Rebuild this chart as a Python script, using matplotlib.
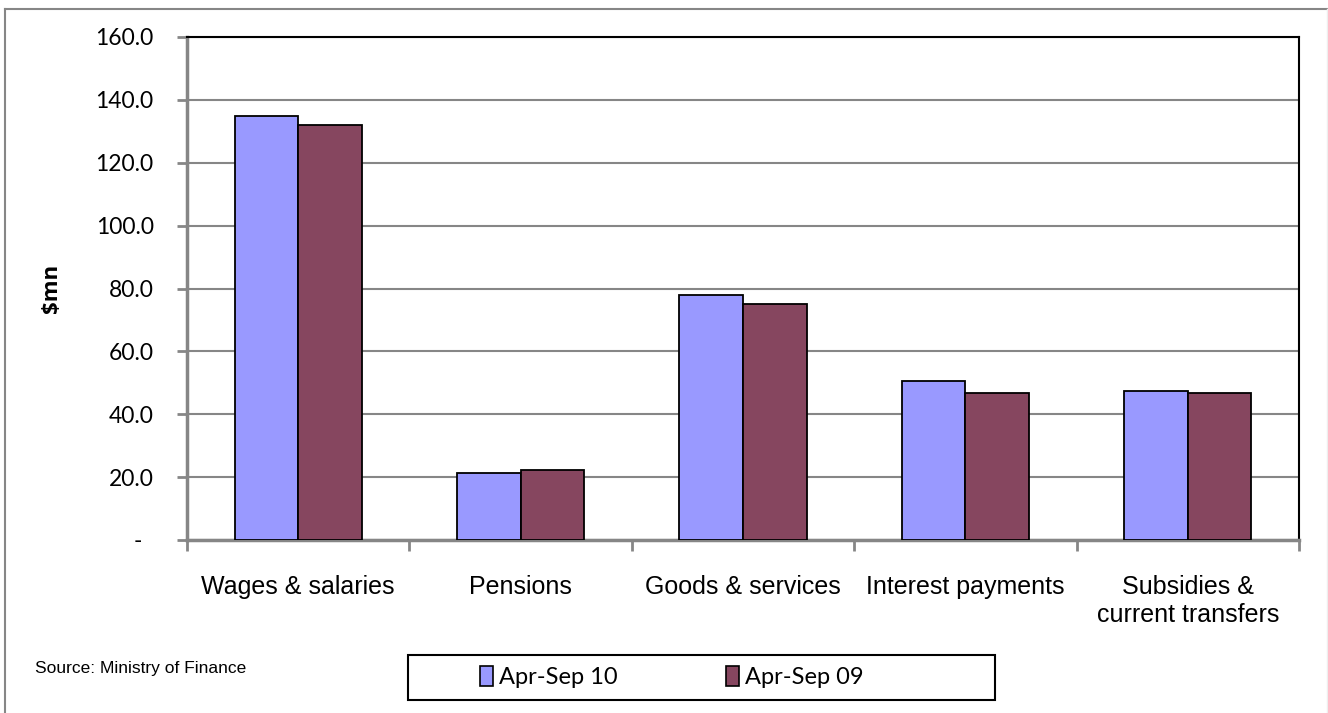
import matplotlib
matplotlib.use("Agg")
import matplotlib.pyplot as plt
import numpy as np
from matplotlib.patches import Rectangle
from matplotlib.lines import Line2D

categories = ["Wages & salaries", "Pensions", "Goods & services",
              "Interest payments", "Subsidies &\ncurrent transfers"]
apr_sep_10 = [135.0, 21.3, 78.0, 50.6, 47.4]
apr_sep_09 = [132.0, 22.4, 75.0, 46.8, 46.8]
series_names = ["Apr-Sep 10", "Apr-Sep 09"]
yticks = [0, 20, 40, 60, 80, 100, 120, 140, 160]

blue = "#9999FF"
plum = "#86465F"
grey = "#868686"
W, H = 1328, 713

fig = plt.figure(figsize=(W / 100, H / 100), dpi=100)
ax = fig.add_axes([187 / W, 1 - 540 / H, (1299 - 187) / W, (540 - 37) / H])

x = np.arange(len(categories))
w = 0.286
ax.bar(x - w / 2, apr_sep_10, w, color=blue, edgecolor="black", linewidth=1.3, zorder=3)
ax.bar(x + w / 2, apr_sep_09, w, color=plum, edgecolor="black", linewidth=1.3, zorder=3)

ax.set_xlim(-0.5, len(categories) - 0.5)
ax.set_ylim(0, 160)
ax.set_yticks(yticks)
ax.set_yticklabels(["-  "] + [f"{v:.1f}" for v in yticks[1:]],
                   fontfamily="Lato", fontsize=16.5)
ax.yaxis.grid(True, color=grey, linewidth=1.5, zorder=0)

# category ticks sit between the groups, labels at the centres
ax.set_xticks(np.arange(len(categories) + 1) - 0.5)
ax.set_xticklabels([])
ax.set_xticks(x, minor=True)
ax.set_xticklabels(categories, minor=True, fontfamily="Liberation Sans", fontsize=18)
ax.tick_params(axis="x", which="minor", length=0, pad=25)
ax.tick_params(axis="x", which="major", length=8, width=2, color=grey, direction="out")
ax.tick_params(axis="y", length=7, width=2, color=grey, pad=17)

for s in ("left", "bottom"):
    ax.spines[s].set_color(grey)
    ax.spines[s].set_linewidth(2.5)
for s in ("top", "right"):
    ax.spines[s].set_color("black")
    ax.spines[s].set_linewidth(1.5)

ax.set_ylabel("$mn", fontfamily="Open Sans", fontweight="bold", fontsize=16, labelpad=24)

# legend: framed box under the plot, entries centred inside it
fig.add_artist(Rectangle((408 / W, 1 - 700 / H), 587 / W, 45 / H, transform=fig.transFigure,
                         facecolor="white", edgecolor="black", linewidth=1.5))
handles = [Rectangle((0, 0), 1, 1, facecolor=blue, edgecolor="black", linewidth=1.2),
           Rectangle((0, 0), 1, 1, facecolor=plum, edgecolor="black", linewidth=1.2)]
fig.legend(handles, series_names, loc="center", bbox_to_anchor=(672 / W, 1 - 677 / H),
           ncol=2, frameon=False, prop={"family": "Lato", "size": 17},
           handlelength=0.55, handleheight=0.9, handletextpad=0.25, columnspacing=4.6)

fig.text(35 / W, 1 - 668 / H, "Source: Ministry of Finance",
         family="Liberation Sans", fontsize=12.5, va="center")

# outer chart frame
fig.add_artist(Line2D([5 / W, 5 / W], [0, 1 - 9 / H], transform=fig.transFigure,
                      color=grey, linewidth=1.5))
fig.add_artist(Line2D([5 / W, 1], [1 - 9 / H, 1 - 9 / H], transform=fig.transFigure,
                      color=grey, linewidth=1.5))
fig.add_artist(Line2D([1327 / W, 1327 / W], [0, 1 - 9 / H], transform=fig.transFigure,
                      color="#eeeeee", linewidth=1))

fig.savefig("out.png", dpi=100)
